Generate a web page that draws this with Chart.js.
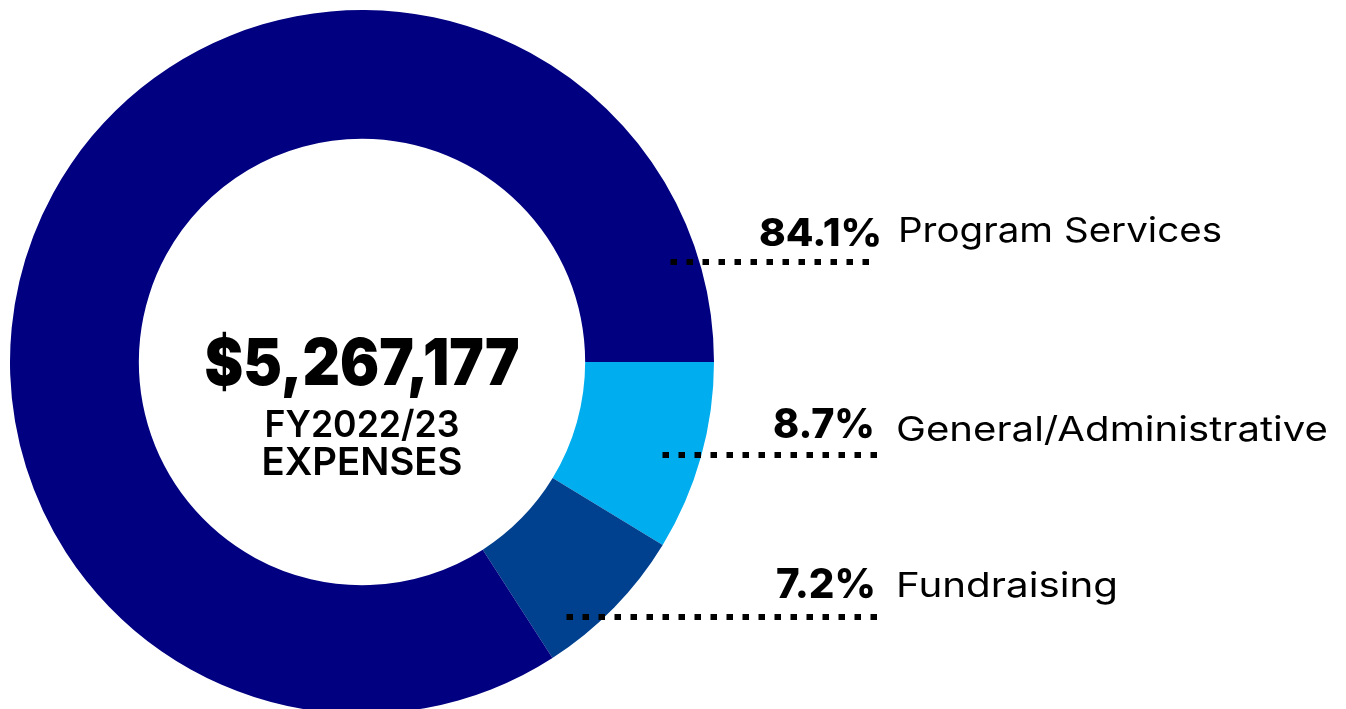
<!DOCTYPE html>
<html>
<head>
<meta charset="utf-8">
<script src="https://cdn.jsdelivr.net/npm/chart.js@4"></script>
<style>
  html, body { margin: 0; padding: 0; background: #ffffff; overflow: hidden; }
  #wrap { position: relative; width: 1346px; height: 724px; }
</style>
</head>
<body>
<div id="wrap"><canvas id="c"></canvas></div>
<script>
// ---- Data ----
const categories = ['General/Administrative', 'Fundraising', 'Program Services'];
const percentValues = [8.7, 7.2, 84.1];
const percentLabels = ['8.7%', '7.2%', '84.1%'];
const sliceColors = ['#00AEEF', '#00418F', '#000080'];
const centerAmount = '$5,267,177';
const centerLines = ['FY2022/23', 'EXPENSES'];

// ---- Layout (annotation placement only) ----
const FONT = 'Inter, "Open Sans", sans-serif';
const CAP = 0.727;
const labelLayout = [
  { base: 438, nameBase: 441, pctRight: 875, pctCap: 30, pctW: 102, nameX: 896, nameCap: 25, nameW: 432, lineY: 455, x0: 662, x1: 877 },
  { base: 598, nameBase: 597, pctRight: 876, pctCap: 30, pctW: 100, nameX: 896, nameCap: 25, nameW: 222, lineY: 617, x0: 567, x1: 877 },
  { base: 246, nameBase: 242, pctRight: 882, pctCap: 28, pctW: 123, nameX: 898, nameCap: 25, nameW: 324, lineY: 262, x0: 670, x1: 869 }
];
const centerLayout = [
  { text: () => centerAmount, base: 385, cap: 47, w: 315, weight: 900 },
  { text: () => centerLines[0], base: 437, cap: 27, w: 195, weight: 600 },
  { text: () => centerLines[1], base: 475, cap: 28, w: 201, weight: 600 }
];

function drawFitted(ctx, text, x, base, align, weight, cap, targetW) {
  const size = cap / CAP;
  ctx.font = weight + ' ' + size + 'px ' + FONT;
  const w = ctx.measureText(text).width;
  const sx = targetW / w;
  ctx.save();
  ctx.translate(x, base);
  ctx.scale(sx, 1);
  ctx.textAlign = align;
  ctx.textBaseline = 'alphabetic';
  ctx.fillStyle = '#000000';
  ctx.fillText(text, 0, 0);
  ctx.restore();
}

const annotations = {
  id: 'annotations',
  afterDraw(chart) {
    const ctx = chart.ctx;
    const arc = chart.getDatasetMeta(0).data[0];
    const cx = arc.x;
    centerLayout.forEach(c => drawFitted(ctx, c.text(), cx, c.base, 'center', c.weight, c.cap, c.w));
    categories.forEach((name, i) => {
      const L = labelLayout[i];
      drawFitted(ctx, percentLabels[i], L.pctRight, L.base, 'right', 800, L.pctCap, L.pctW);
      drawFitted(ctx, name, L.nameX, L.nameBase, 'left', 400, L.nameCap, L.nameW);
      // dotted leader line (square dots), aligned from right end
      ctx.save();
      ctx.fillStyle = '#000000';
      const dot = 6.5, period = 16;
      for (let x = L.x1 - dot; x >= L.x0 - 1; x -= period) {
        ctx.fillRect(x, L.lineY - 3, dot, 6);
      }
      ctx.restore();
    });
  }
};

new Chart(document.getElementById('c'), {
  type: 'doughnut',
  data: {
    labels: categories,
    datasets: [{
      data: percentValues,
      backgroundColor: sliceColors,
      borderWidth: 0,
      hoverOffset: 0
    }]
  },
  options: {
    responsive: true,
    maintainAspectRatio: false,
    animation: false,
    cutout: '63.4%',
    rotation: 90,
    layout: { padding: { left: 10, top: 10, right: 632, bottom: 10 } },
    plugins: { legend: { display: false }, tooltip: { enabled: false } },
    events: []
  },
  plugins: [annotations]
});
</script>
</body>
</html>
